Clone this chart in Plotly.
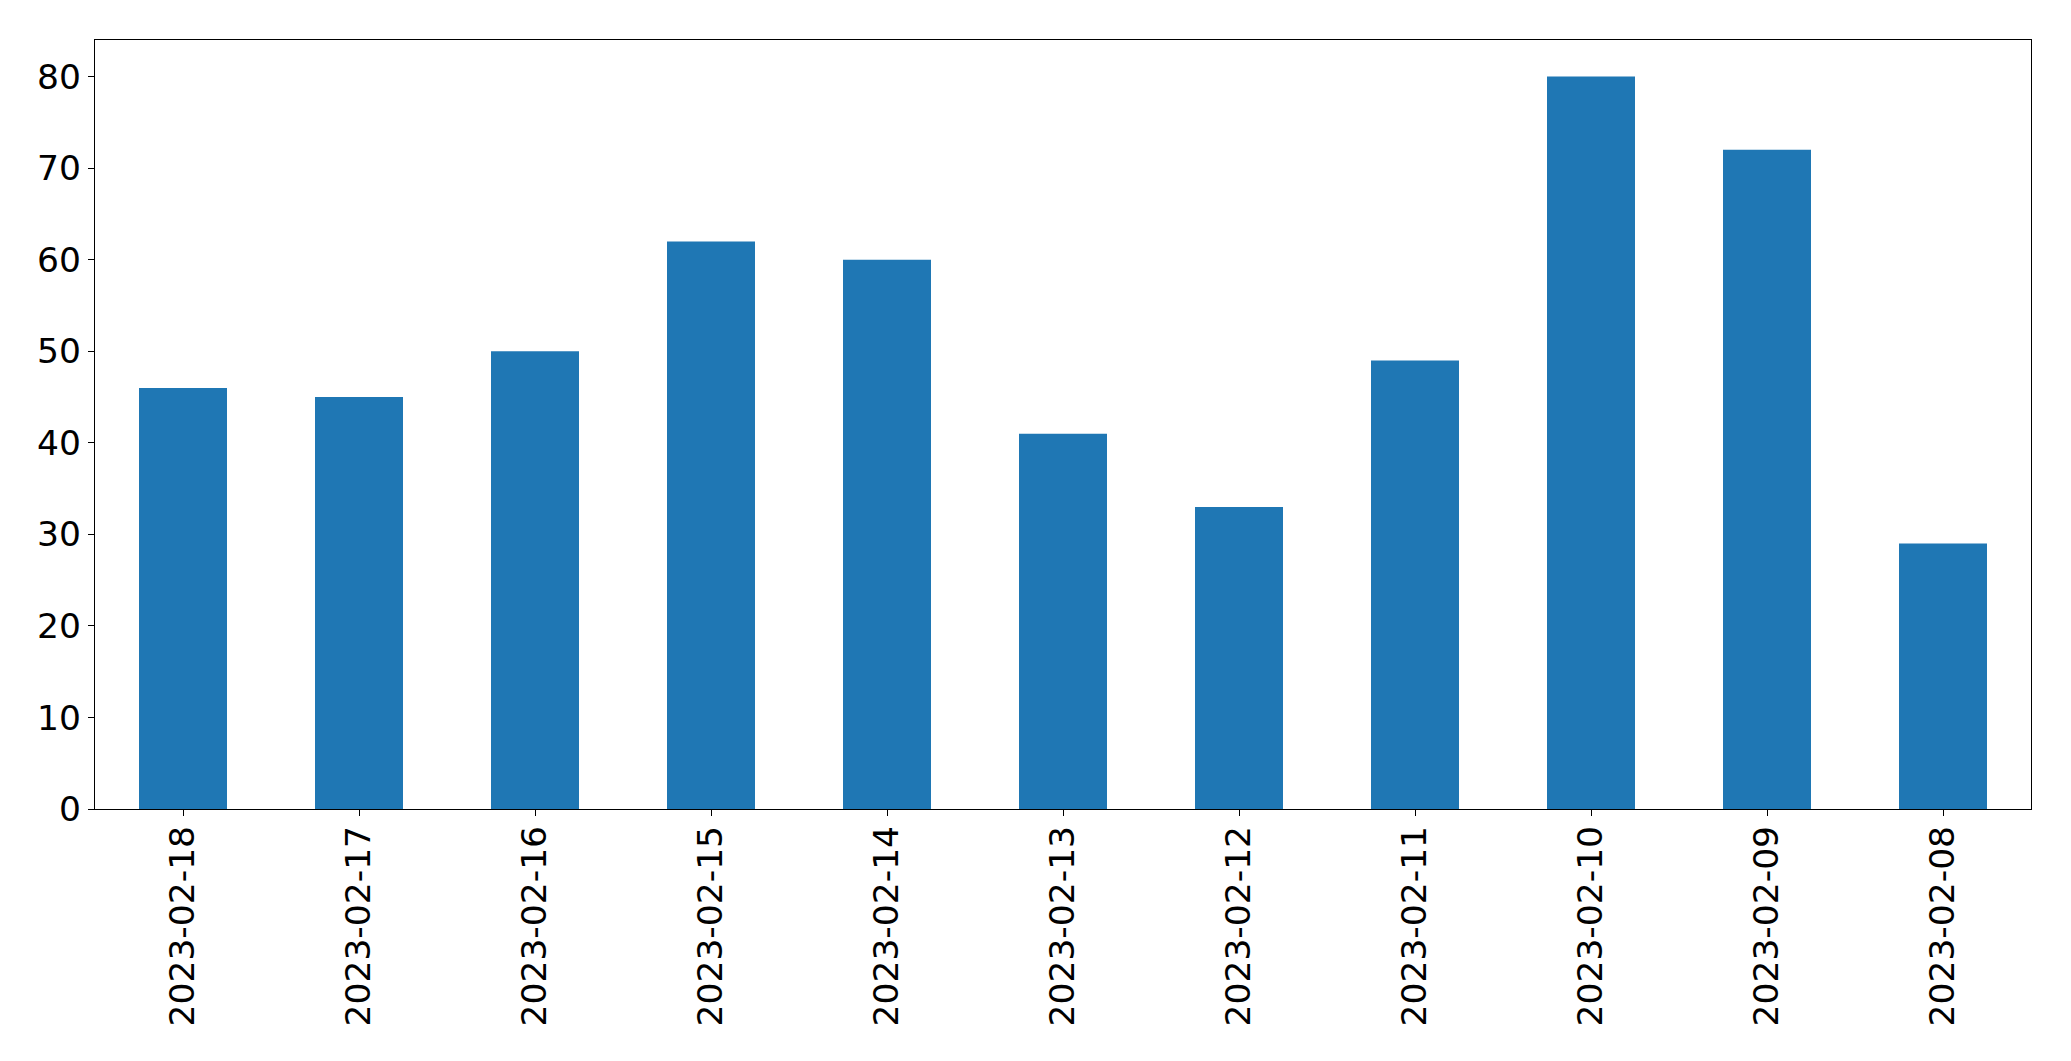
import plotly.graph_objects as go

dates = ["2023-02-18", "2023-02-17", "2023-02-16", "2023-02-15", "2023-02-14",
         "2023-02-13", "2023-02-12", "2023-02-11", "2023-02-10", "2023-02-09", "2023-02-08"]
values = [46, 45, 50, 62, 60, 41, 33, 49, 80, 72, 29]
y_ticks = [0, 10, 20, 30, 40, 50, 60, 70, 80]

fig = go.Figure(go.Bar(x=dates, y=values, marker=dict(color="#1f77b4", line=dict(width=0)), width=0.5))

axis_common = dict(showline=True, linecolor="black", linewidth=1.3, mirror=True,
                   ticks="outside", ticklen=6, tickwidth=1.3, tickcolor="black",
                   showgrid=False, zeroline=False,
                   tickfont=dict(family="DejaVu Sans", size=34.5, color="black"))

# the page body adds an 8px offset, so the figure is 8px smaller and margins shifted
fig.update_layout(
    width=2063, height=1053,
    margin=dict(l=87, r=40, t=32, b=252),
    plot_bgcolor="white", paper_bgcolor="white",
    showlegend=False,
    xaxis=dict(type="category", range=[-0.5, 10.5], tickangle=-90,
               ticklabelstandoff=-4, **axis_common),
    yaxis=dict(range=[0, 84], tickvals=y_ticks, **axis_common),
)

fig.write_html("out.html")
